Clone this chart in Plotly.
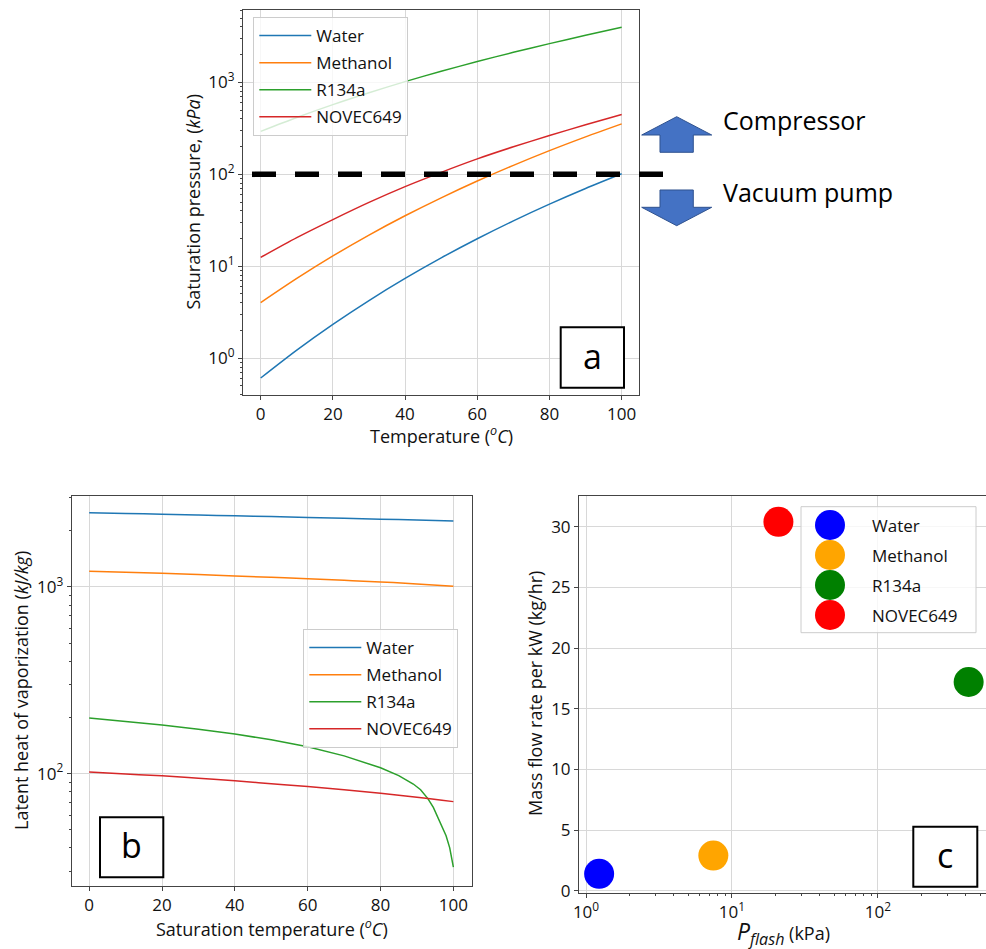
import plotly.graph_objects as go

W, H = 986, 949
FONT = "Open Sans"

# ---------------- data ----------------
fluids = ["Water", "Methanol", "R134a", "NOVEC649"]
line_colors = ["#1f77b4", "#ff7f0e", "#2ca02c", "#d62728"]

# (a) saturation pressure (kPa) vs temperature (degC)
temps = [0, 10, 20, 30, 40, 50, 60, 70, 80, 90, 100]
p_water = [0.611, 1.228, 2.339, 4.247, 7.385, 12.35, 19.95, 31.20, 47.41, 70.18, 101.4]
p_methanol = [4.03, 7.38, 12.97, 21.85, 35.4, 55.5, 84.5, 125.1, 180.8, 255.3, 353.4]
p_r134a = [293, 415, 572, 770, 1017, 1318, 1682, 2117, 2633, 3244, 3972]
p_novec = [12.5, 20.5, 32.2, 49.5, 73.5, 105.0, 147.0, 199.0, 264.0, 345.0, 446.0]
p_threshold = 100  # atmospheric line (kPa)

# (b) latent heat of vaporization (kJ/kg) vs saturation temperature (degC)
h_water = [2501, 2477, 2454, 2430, 2406, 2382, 2358, 2333, 2308, 2283, 2257]
h_methanol = [1214, 1200, 1184, 1165, 1145, 1126, 1107, 1086, 1064, 1038, 1009]
temps_r134a = [0, 10, 20, 30, 40, 50, 60, 70, 80, 85, 89, 91, 93, 94.5, 96, 97, 98, 99, 100]
h_r134a = [198.6, 190.7, 182.3, 173.1, 163.0, 151.8, 139.5, 124.5, 107.5, 97.5, 88.0,
           82.0, 73.5, 66.0, 57.0, 52.0, 46.5, 40.0, 31.6]
h_novec = [102.0, 99.6, 97.3, 94.4, 91.5, 88.3, 85.2, 81.9, 78.5, 74.8, 70.8]

# (c) mass flow rate per kW vs flash pressure
p_flash = [1.23, 7.45, 418.0, 20.8]
mass_flow = [1.4, 2.9, 17.2, 30.4]
marker_colors = ["blue", "orange", "green", "red"]

x_ticks = [0, 20, 40, 60, 80, 100]
log_ticks_a = [1, 10, 100, 1000]
log_text_a = ["10<sup>0</sup>", "10<sup>1</sup>", "10<sup>2</sup>", "10<sup>3</sup>"]
log_ticks_b = [100, 1000]
log_text_b = ["10<sup>2</sup>", "10<sup>3</sup>"]
log_ticks_c = [1, 10, 100]
log_text_c = ["10<sup>0</sup>", "10<sup>1</sup>", "10<sup>2</sup>"]
y_ticks_c = [0, 5, 10, 15, 20, 25, 30]


def px(x):
    return x / W


def py(y):
    return 1 - y / H


def minor_vals(e0, e1):
    return [m * 10 ** e for e in range(e0, e1) for m in range(2, 10)]


fig = go.Figure()

# ---- panel a
for name, col, ys in zip(fluids, line_colors, [p_water, p_methanol, p_r134a, p_novec]):
    fig.add_trace(go.Scatter(x=temps, y=ys, mode="lines", name=name,
                             line=dict(color=col, width=1.5, shape="spline", smoothing=0.8),
                             xaxis="x", yaxis="y", legend="legend", legendgroup="a" + name))
# ---- panel b
b_x = [temps, temps, temps_r134a, temps]
b_shape = ["spline", "spline", "linear", "spline"]
for name, col, xs, ys, shp in zip(fluids, line_colors, b_x,
                                  [h_water, h_methanol, h_r134a, h_novec], b_shape):
    fig.add_trace(go.Scatter(x=xs, y=ys, mode="lines", name=name,
                             line=dict(color=col, width=1.5, shape=shp),
                             xaxis="x2", yaxis="y2", legend="legend2", legendgroup="b" + name))
# ---- panel c
for name, col, xv, yv in zip(fluids, marker_colors, p_flash, mass_flow):
    fig.add_trace(go.Scatter(x=[xv], y=[yv], mode="markers", name=name,
                             marker=dict(color=col, size=30, line=dict(width=0)),
                             xaxis="x3", yaxis="y3", showlegend=False))

TICK_FONT = dict(family=FONT, size=17, color="#111")
axis_common = dict(showline=True, mirror=True, linecolor="#444", linewidth=1,
                   gridcolor="#d8d8d8", gridwidth=1, ticks="outside", ticklen=4,
                   tickcolor="#444", tickfont=TICK_FONT,
                   zeroline=False, automargin=False)
minor_common = dict(ticks="outside", ticklen=2, tickcolor="#444", showgrid=False)
legend_common = dict(xanchor="left", yanchor="top", bgcolor="rgba(255,255,255,0.8)",
                     bordercolor="#cccccc", borderwidth=1,
                     font=dict(family=FONT, size=17, color="#111"), tracegroupgap=2,
                     itemwidth=52)

fig.update_layout(
    width=W, height=H, margin=dict(l=0, r=0, t=0, b=0),
    paper_bgcolor="white", plot_bgcolor="white",
    font=dict(family=FONT, size=17, color="#111"),
    xaxis=dict(domain=[px(243), px(639)], range=[-4.9, 104.8], anchor="y",
               tickvals=x_ticks, **axis_common),
    yaxis=dict(domain=[py(395), py(10)], type="log", range=[-0.399, 3.786], anchor="x",
               tickvals=log_ticks_a, ticktext=log_text_a,
               minor=dict(tickvals=minor_vals(-1, 4), **minor_common), **axis_common),
    xaxis2=dict(domain=[px(71.7), px(472.3)], range=[-4.8, 105.2], anchor="y2",
                tickvals=x_ticks, **axis_common),
    yaxis2=dict(domain=[py(886), py(495.7)], type="log", range=[1.398, 3.489], anchor="x2",
                tickvals=log_ticks_b, ticktext=log_text_b,
                minor=dict(tickvals=minor_vals(1, 4), **minor_common), **axis_common),
    xaxis3=dict(domain=[px(579), 1.0], type="log", range=[-0.048, 2.740], anchor="y3",
                tickvals=log_ticks_c, ticktext=log_text_c,
                minor=dict(tickvals=minor_vals(0, 3), **minor_common), **axis_common),
    yaxis3=dict(domain=[py(892.7), py(495.7)], range=[-0.16, 32.55], anchor="x3",
                tickvals=y_ticks_c, **axis_common),
    legend=dict(x=px(253.3), y=py(17), **legend_common),
    legend2=dict(x=px(303.3), y=py(629), **legend_common),
)

shapes = []
annotations = []


def label(text, x, y, size, angle=0, xanchor="center", color="#111"):
    return dict(text=text, xref="paper", yref="paper", x=px(x), y=py(y), textangle=angle,
                xanchor=xanchor, yanchor="middle", showarrow=False,
                font=dict(family=FONT, size=size, color=color))


# dashed atmospheric line in panel a
shapes.append(dict(type="line", xref="paper", yref="y", x0=px(252), x1=px(663),
                   y0=p_threshold, y1=p_threshold,
                   line=dict(color="black", width=5.5, dash="24px,19px")))

# block arrows
arrow_fill, arrow_line = "#4472C4", "#2F528F"
up = [(676.7, 116.7), (711.7, 135), (693.3, 135), (693.3, 152.3), (660, 152.3), (660, 135), (641.7, 135)]
down = [(660, 190), (693.3, 190), (693.3, 207.3), (711.7, 207.3), (676.7, 225.7), (641.7, 207.3), (660, 207.3)]
for poly in (up, down):
    path = "M " + " L ".join(f"{px(x):.5f},{py(y):.5f}" for x, y in poly) + " Z"
    shapes.append(dict(type="path", xref="paper", yref="paper", path=path,
                       fillcolor=arrow_fill, line=dict(color=arrow_line, width=1)))
annotations.append(label("Compressor", 721, 120, 25, xanchor="left", color="black"))
annotations.append(label("Vacuum pump", 721, 192, 25, xanchor="left", color="black"))

# panel label boxes
for letter, (x0, y0, x1, y1) in zip(["a", "b", "c"],
                                     [(560.7, 327.3, 624, 387.7), (100, 817.3, 163.3, 877.3),
                                      (913.3, 826.7, 977.3, 886.7)]):
    shapes.append(dict(type="rect", xref="paper", yref="paper", x0=px(x0), x1=px(x1),
                       y0=py(y0), y1=py(y1), fillcolor="white",
                       line=dict(color="black", width=2)))
    annotations.append(label(letter, (x0 + x1) / 2, (y0 + y1) / 2 - 2, 34, color="black"))

# custom legend for panel c (large markers)
shapes.append(dict(type="rect", xref="paper", yref="paper", x0=px(801), x1=px(976),
                   y0=py(506.7), y1=py(632.7), fillcolor="rgba(255,255,255,0.8)",
                   line=dict(color="#cccccc", width=1)))
for i, (name, col) in enumerate(zip(fluids, marker_colors)):
    cy = 525 + i * 30
    shapes.append(dict(type="circle", xref="paper", yref="paper", xsizemode="pixel",
                       ysizemode="pixel", xanchor=px(830), yanchor=py(cy),
                       x0=-15, x1=15, y0=-15, y1=15, fillcolor=col, line=dict(width=0)))
    annotations.append(label(name, 870, cy, 17, xanchor="left"))

# axis titles
annotations += [
    label("Saturation pressure, (<i>kPa</i>)", 193, 202.5, 18, angle=-90),
    label("Temperature (<i><sup>o</sup>C</i>)", 441, 435, 18),
    label("Latent heat of vaporization (<i>kJ/kg</i>)", 21, 691, 18, angle=-90),
    label("Saturation temperature (<i><sup>o</sup>C</i>)", 272, 928, 18),
    label("Mass flow rate per kW (kg/hr)", 535, 694, 18, angle=-90),
    label("<span style='font-size:23px'><i>P<sub>flash</sub></i></span> (kPa)", 783, 932, 18),
]

fig.update_layout(shapes=shapes, annotations=annotations)
fig.write_html("out.html")
